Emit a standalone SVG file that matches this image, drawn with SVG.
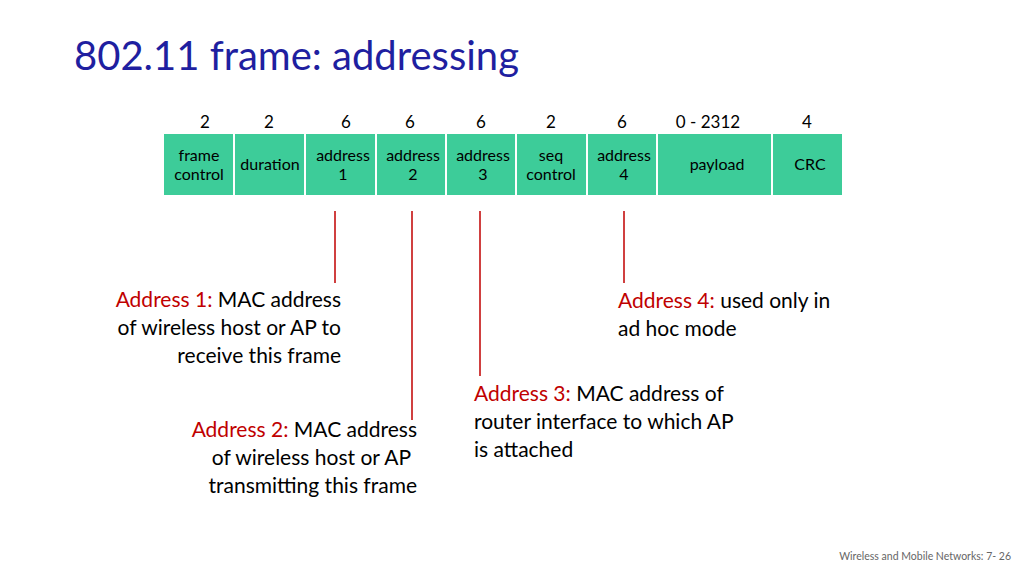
<svg xmlns="http://www.w3.org/2000/svg" width="1024" height="576" viewBox="0 0 1024 576">
<style>
text{font-family:Lato,"Open Sans","Liberation Sans",sans-serif;fill:#000}
.t{font-size:40px;fill:#1f1fa0}
.n{font-size:17px;text-anchor:middle}
.f{font-size:16px;text-anchor:middle}
.b{fill:#3dcc99;stroke:#fff;stroke-width:2}
.l{font-size:21px}
.r{fill:#c00000}
.c{stroke:#c00000;stroke-width:1.5;fill:none}
</style>
<rect width="1024" height="576" fill="#fff"/>
<text class="t" x="74" y="70">802.11 frame: addressing</text>
<g id="numbers">
<text class="n" x="205" y="128">2</text><text class="n" x="269" y="128">2</text>
<text class="n" x="346" y="128">6</text><text class="n" x="410" y="128">6</text>
<text class="n" x="481" y="128">6</text><text class="n" x="551" y="128">2</text>
<text class="n" x="622" y="128">6</text><text class="n" x="708" y="128">0 - 2312</text>
<text class="n" x="807" y="128">4</text>
</g>
<g id="frame">
<rect class="b" x="163" y="133" width="71" height="63"/>
<rect class="b" x="234" y="133" width="71" height="63"/>
<rect class="b" x="305" y="133" width="71" height="63"/>
<rect class="b" x="376" y="133" width="70" height="63"/>
<rect class="b" x="446" y="133" width="70" height="63"/>
<rect class="b" x="516" y="133" width="71" height="63"/>
<rect class="b" x="587" y="133" width="70" height="63"/>
<rect class="b" x="657" y="133" width="115" height="63"/>
<rect class="b" x="772" y="133" width="71" height="63"/>
<text class="f" x="199" y="161">frame</text><text class="f" x="199" y="180">control</text>
<text class="f" x="270" y="170">duration</text>
<text class="f" x="343" y="161">address</text><text class="f" x="343" y="180">1</text>
<text class="f" x="413" y="161">address</text><text class="f" x="413" y="180">2</text>
<text class="f" x="483" y="161">address</text><text class="f" x="483" y="180">3</text>
<text class="f" x="551" y="161">seq</text><text class="f" x="551" y="180">control</text>
<text class="f" x="624" y="161">address</text><text class="f" x="624" y="180">4</text>
<text class="f" x="717" y="170">payload</text>
<text class="f" x="810" y="170">CRC</text>
</g>
<g id="connectors">
<line class="c" x1="335" y1="211" x2="335" y2="283"/>
<line class="c" x1="412" y1="211" x2="412" y2="420"/>
<line class="c" x1="480" y1="211" x2="480" y2="376"/>
<line class="c" x1="624" y1="211" x2="624" y2="283"/>
</g>
<g id="a1" text-anchor="end">
<text class="l" x="341" y="307"><tspan class="r">Address 1:</tspan> MAC address</text>
<text class="l" x="341" y="335">of wireless host or AP  to</text>
<text class="l" x="341" y="363">receive this frame</text>
</g>
<g id="a2" text-anchor="end">
<text class="l" x="417" y="437"><tspan class="r">Address 2:</tspan> MAC address</text>
<text class="l" x="411" y="465">of wireless host or AP</text>
<text class="l" x="417" y="493">transmitting this frame</text>
</g>
<g id="a3">
<text class="l" x="474" y="401"><tspan class="r">Address 3:</tspan> MAC address of</text>
<text class="l" x="474" y="429">router interface to which AP</text>
<text class="l" x="474" y="457">is attached</text>
</g>
<g id="a4">
<text class="l" x="618" y="308"><tspan class="r">Address 4:</tspan> used only in</text>
<text class="l" x="618" y="336">ad hoc mode</text>
</g>
<text x="1011" y="560" font-size="10.5" fill="#666" text-anchor="end" style="fill:#666">Wireless and Mobile Networks: 7- 26</text>
</svg>
